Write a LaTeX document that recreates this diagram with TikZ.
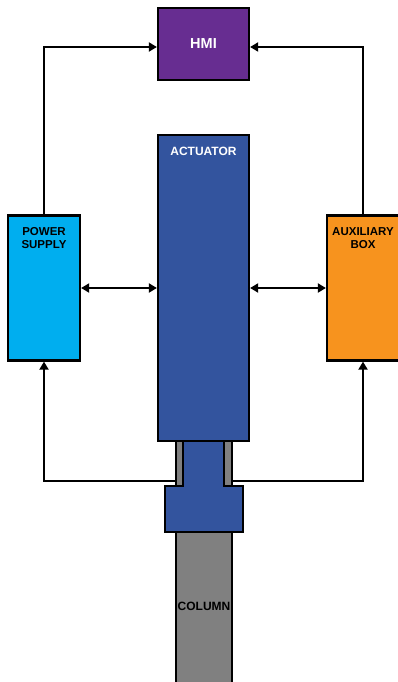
\documentclass[tikz,border=0pt]{standalone}
\usepackage{fontspec}
\setmainfont{Liberation Sans}
\usetikzlibrary{arrows.meta}
\definecolor{hmic}{RGB}{103,45,145}
\definecolor{actc}{RGB}{51,84,158}
\definecolor{psc}{RGB}{0,174,239}
\definecolor{auxc}{RGB}{247,147,30}
\definecolor{colc}{RGB}{128,128,128}
\tikzset{
  blk/.style={draw=black,line width=2.2pt,rectangle,inner sep=0pt},
  lbl/.style={font=\bfseries\fontsize{11.5}{13}\selectfont,align=center,inner sep=0pt},
  wlbl/.style={lbl,text=white},
  conn/.style={line width=1.8pt,draw=black},
  arr/.style={conn,-{Triangle[length=8pt,width=9pt]}},
  darr/.style={conn,{Triangle[length=8pt,width=9pt]}-{Triangle[length=8pt,width=9pt]}}
}
\begin{document}
\begin{tikzpicture}[x=1pt,y=-1pt]
\useasboundingbox (0,0) rectangle (398,682);
% column and mechanism
\fill[colc,draw=black,line width=2.2pt] (176,441) rectangle (232,690);
\node[lbl,font=\bfseries\fontsize{12}{14}\selectfont] (coltxt) at (204,606) {COLUMN};
\filldraw[fill=actc,draw=black,line width=2.2pt] (183,441) -- (183,486) -- (165,486) -- (165,532) -- (243,532) -- (243,486) -- (224,486) -- (224,441);
\coordinate (colL) at (176,481);
\coordinate (colR) at (232,481);
% boxes
\node[blk,fill=hmic,minimum width=91pt,minimum height=72pt] (hmi) at (203.5,44) {};
\node[wlbl,font=\bfseries\fontsize{14.5}{16}\selectfont] (hmitxt) at (203.5,44) {HMI};
\node[blk,fill=actc,minimum width=91pt,minimum height=306pt] (act) at (203.5,288) {};
\node[wlbl,font=\bfseries\fontsize{12}{14}\selectfont] (acttxt) at (203.5,151) {ACTUATOR};
\node[blk,fill=psc,minimum width=72pt,minimum height=145pt] (ps) at (44,288) {};
\node[lbl] (pstxt) at (44,238.5) {POWER\\SUPPLY};
\node[blk,fill=auxc,minimum width=72pt,minimum height=145pt] (aux) at (363,288) {};
\node[lbl] (auxtxt) at (363,238.5) {AUXILIARY\\BOX};
% connectors
\draw[arr] (ps.north) |- ([yshift=-3pt]hmi.west);
\draw[arr] (aux.north) |- ([yshift=-3pt]hmi.east);
\draw[darr] (ps.east) -- (act.west);
\draw[darr] (act.east) -- (aux.west);
\draw[arr] (colL) -| (ps.south);
\draw[arr] (colR) -| (aux.south);
\end{tikzpicture}
\end{document}
